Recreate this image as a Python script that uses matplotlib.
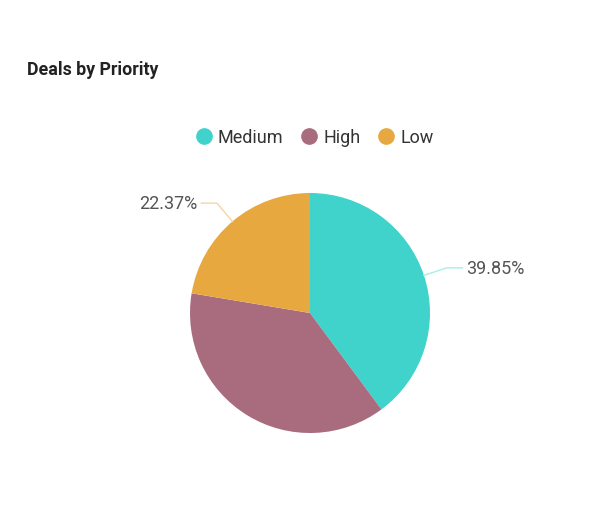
import numpy as np
import matplotlib
matplotlib.use('Agg')
import matplotlib.pyplot as plt
from matplotlib.lines import Line2D

plt.rcParams['font.family'] = ['Roboto', 'DejaVu Sans']

labels = ['Medium', 'High', 'Low']
values = [39.85, 37.78, 22.37]
colors = ['#3fd3cc', '#a96c7e', '#e8a840']
line_colors = ['#a9ece8', '#d8bcc4', '#f4d6a4']
show_label = [True, False, True]

W, H = 592, 510
fig = plt.figure(figsize=(W / 100, H / 100), dpi=100)
fig.patch.set_facecolor('white')

# pie axes: centre (310, 314) px, radius 120 px
cx, cy, r = 310, 314, 120
ax = fig.add_axes([(cx - r) / W, (H - cy - r) / H, 2 * r / W, 2 * r / H])
ax.set_xlim(-1, 1)
ax.set_ylim(-1, 1)
ax.set_aspect('equal')
ax.axis('off')

wedges, _ = ax.pie(values, colors=colors, startangle=90, counterclock=False,
                   radius=1, wedgeprops=dict(linewidth=0))
ax.set_xlim(-1, 1)
ax.set_ylim(-1, 1)

for w, v, lc, show in zip(wedges, values, line_colors, show_label):
    if not show:
        continue
    mid = np.deg2rad((w.theta1 + w.theta2) / 2)
    x0, y0 = np.cos(mid), np.sin(mid)
    x1, y1 = 1.2 * x0, 1.2 * y0
    side = 1 if x0 > 0 else -1
    x2 = x1 + side * 0.13
    ax.plot([x0, x1, x2], [y0, y1, y1], color=lc, lw=1, clip_on=False)
    ax.text(x2 + side * 0.03, y1, '%.2f%%' % v, ha='left' if side > 0 else 'right',
            va='center', fontsize=13, color='#555555')

fig.text(27 / W, 1 - 70 / H, 'Deals by Priority', fontsize=12.8, fontweight='bold',
         color='#222222', ha='left', va='center')

handles = [Line2D([0], [0], marker='o', linestyle='', markersize=11,
                  markerfacecolor=c, markeredgecolor=c) for c in colors]
fig.legend(handles, labels, loc='center', bbox_to_anchor=(314 / W, 1 - 138 / H),
           ncol=3, frameon=False, fontsize=13, handletextpad=0.3,
           columnspacing=0.9, handlelength=1.0, labelcolor='#333333')

fig.savefig('out.png', dpi=100, facecolor='white')
